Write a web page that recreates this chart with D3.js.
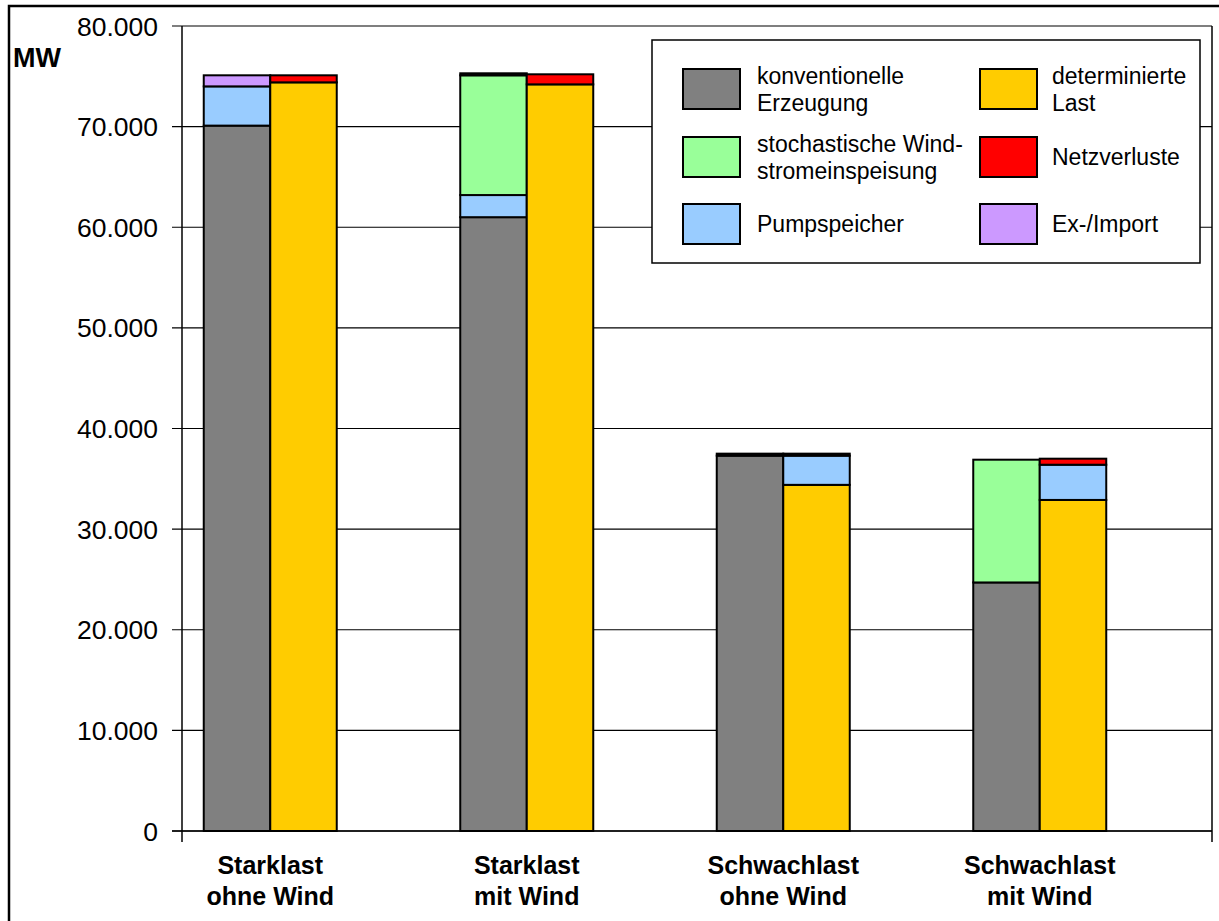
<!DOCTYPE html>
<html><head><meta charset="utf-8">
<script src="https://cdn.jsdelivr.net/npm/d3@7"></script>
<style>body{margin:0;background:#fff;} svg{display:block;font-family:"Liberation Sans",Arial,sans-serif;}</style>
</head><body>
<svg id="c" width="1219" height="921"></svg>
<script>
// ---- data ----
const categories = [["Starklast","ohne Wind"],["Starklast","mit Wind"],["Schwachlast","ohne Wind"],["Schwachlast","mit Wind"]];
const yTicks = [0,10000,20000,30000,40000,50000,60000,70000,80000];
const konventionell = [70100, 61000, 37300, 24700];
const pumpErzeugung = [3900, 2200, 0, 0];
const windEinspeisung = [0, 11900, 0, 12200];
const exImport = [1100, 200, 200, 0];
const last = [74400, 74200, 34400, 32900];
const pumpLast = [0, 0, 2900, 3500];
const netzverluste = [700, 1000, 200, 600];
const legendItems = [
  {lines:["konventionelle","Erzeugung"], color:"#808080"},
  {lines:["stochastische Wind-","stromeinspeisung"], color:"#99FF99"},
  {lines:["Pumpspeicher"], color:"#99CCFF"},
  {lines:["determinierte","Last"], color:"#FFCC00"},
  {lines:["Netzverluste"], color:"#FF0000"},
  {lines:["Ex-/Import"], color:"#CC99FF"}
];

const svg = d3.select("#c");
const catKeys = categories.map(c=>c.join(" "));
const x = d3.scaleBand().domain(catKeys).range([142,1168]);
const sub = d3.scaleBand().domain(["gen","load"]).range([-66.5,66.5]);
const y = d3.scaleLinear().domain([0,80000]).range([831,26]);
const fmt = v => v===0 ? "0" : d3.format(",")(v).replace(/,/g,".");

// outer frame
svg.append("rect").attr("x",9).attr("y",6).attr("width",1400).attr("height",1200)
  .attr("fill","none").attr("stroke","#000").attr("stroke-width",2.5);

// gridlines + y ticks
const g = svg.append("g");
g.selectAll("line.grid").data(yTicks).join("line")
  .attr("x1",172).attr("x2",1212).attr("y1",d=>y(d)).attr("y2",d=>y(d))
  .attr("stroke","#000").attr("stroke-width",1.2);
g.selectAll("text.yl").data(yTicks).join("text")
  .attr("x",158).attr("y",d=>y(d)).attr("dy","0.36em").attr("text-anchor","end")
  .attr("font-size",26.5).text(fmt);
// axes lines
g.append("line").attr("x1",182).attr("x2",182).attr("y1",26).attr("y2",842).attr("stroke","#000").attr("stroke-width",1.5);
g.append("line").attr("x1",1212).attr("x2",1212).attr("y1",26).attr("y2",842).attr("stroke","#000").attr("stroke-width",1.5);
g.append("line").attr("x1",172).attr("x2",1212).attr("y1",y(0)).attr("y2",y(0)).attr("stroke","#000").attr("stroke-width",1.5);

svg.append("text").attr("x",13).attr("y",67).attr("font-size",27).attr("font-weight","bold").text("MW");

// bars
const genKeys = ["k","p","w","e"], genColors = {k:"#808080",p:"#99CCFF",w:"#99FF99",e:"#CC99FF"};
const loadKeys = ["l","pl","n"], loadColors = {l:"#FFCC00",pl:"#99CCFF",n:"#FF0000"};
const genRows = catKeys.map((c,i)=>({cat:c,k:konventionell[i],p:pumpErzeugung[i],w:windEinspeisung[i],e:exImport[i]}));
const loadRows = catKeys.map((c,i)=>({cat:c,l:last[i],pl:pumpLast[i],n:netzverluste[i]}));
function drawStack(rows, keys, colors, which){
  const st = d3.stack().keys(keys)(rows);
  st.forEach(layer=>{
    svg.append("g").selectAll("rect").data(layer.filter(d=>d[1]-d[0]>0)).join("rect")
      .attr("x",d=>x(d.data.cat)+x.bandwidth()/2+sub(which))
      .attr("width",sub.bandwidth())
      .attr("y",d=>y(d[1])).attr("height",d=>y(d[0])-y(d[1]))
      .attr("fill",colors[layer.key]).attr("stroke","#000").attr("stroke-width",2);
  });
}
drawStack(genRows, genKeys, genColors, "gen");
drawStack(loadRows, loadKeys, loadColors, "load");

// category labels
const cl = svg.append("g");
categories.forEach((c,i)=>{
  const cx = x(catKeys[i])+x.bandwidth()/2;
  c.forEach((t,j)=>{
    cl.append("text").attr("x",cx).attr("y",874+j*31).attr("text-anchor","middle")
      .attr("font-size",25).attr("font-weight","bold").text(t);
  });
});

// legend
const lg = svg.append("g");
lg.append("rect").attr("x",652).attr("y",40).attr("width",548).attr("height",223)
  .attr("fill","#fff").attr("stroke","#000").attr("stroke-width",1.5);
const swY = [69,137,204];
const cols = [{sx:683,tx:757},{sx:980,tx:1052}];
legendItems.forEach((it,i)=>{
  const col = cols[Math.floor(i/3)], row = i%3;
  lg.append("rect").attr("x",col.sx).attr("y",swY[row]).attr("width",57).attr("height",40)
    .attr("fill",it.color).attr("stroke","#000").attr("stroke-width",2);
  const cy = swY[row]+20;
  const n = it.lines.length;
  it.lines.forEach((t,j)=>{
    lg.append("text").attr("x",col.tx).attr("y",cy + (j-(n-1)/2)*27).attr("dy","0.35em")
      .attr("font-size",23).text(t);
  });
});
</script>
</body></html>
